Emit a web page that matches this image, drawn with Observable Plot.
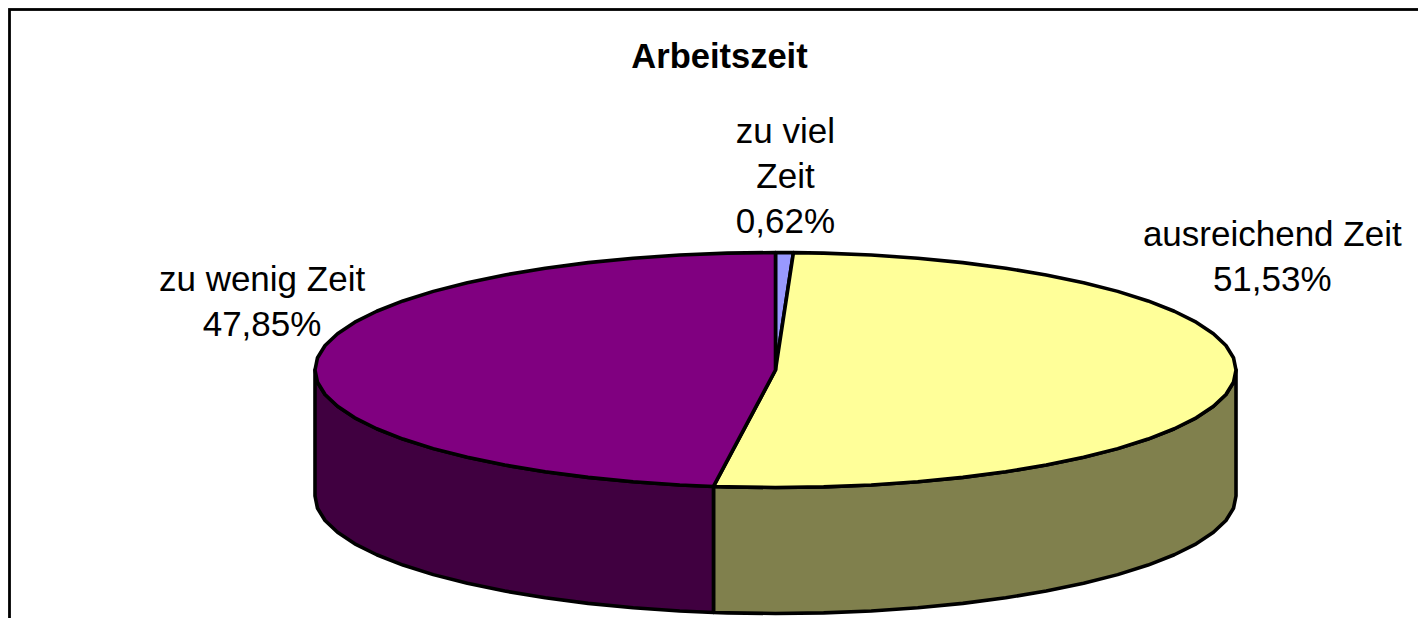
<!DOCTYPE html>
<html lang="de">
<head>
<meta charset="utf-8">
<script src="https://cdn.jsdelivr.net/npm/d3@7"></script>
<script src="https://cdn.jsdelivr.net/npm/@observablehq/plot@0.6"></script>
<style>
html,body{margin:0;padding:0;background:#fff;overflow:hidden}
</style>
</head>
<body>
<div id="chart"></div>
<script>
const categories = ["zu viel Zeit", "ausreichend Zeit", "zu wenig Zeit"];
const values = [0.62, 51.53, 47.85];
const valueLabels = ["0,62%", "51,53%", "47,85%"];
const labelLines = ["zu viel\nZeit", "ausreichend Zeit", "zu wenig Zeit"];
const topColors = ["#9999ff", "#ffff99", "#800080"];
const sideColors = ["#4d4d80", "#80804d", "#400040"];
const chartTitle = "Arbeitszeit";

// layout of the tilted disc, in pixels
const W = 1418, H = 618, CX = 775, CY = 369.5, RX = 460.5, RY = 117.5, DEPTH = 126;

const toRad = (deg) => deg * Math.PI / 180;
const total = d3.sum(values);
const ends = Array.from(d3.cumsum(values), (v) => v / total * 360);
const slices = categories.map((c, i) => ({
  index: i, start: i ? ends[i - 1] : 0, end: ends[i]
}));
const pt = (deg, drop = 0) => ({
  px: Math.sin(toRad(deg)),
  py: -Math.cos(toRad(deg)) + drop
});
const arcAngles = (a, b) => {
  const inner = d3.range(Math.ceil(a / 6) * 6, b, 6).filter((d) => d > a);
  return [a, ...inner, b];
};
const drop = DEPTH / RY;

const marks = [];
// outer frame, running off the picture on the right and at the bottom
marks.push(Plot.frame({stroke: "#000", strokeWidth: 2.8, insetLeft: 9, insetTop: 9, insetRight: -6, insetBottom: -6}));

// visible side walls (front half of the disc)
for (const s of slices) {
  const a = Math.max(s.start, 90), b = Math.min(s.end, 270);
  if (a >= b) continue;
  const angles = arcAngles(a, b);
  const poly = [
    ...angles.map((d) => pt(d)),
    ...angles.slice().reverse().map((d) => pt(d, drop))
  ];
  poly.push(poly[0]);
  marks.push(Plot.line(poly, {x: "px", y: "py", fill: sideColors[s.index], stroke: "#000", strokeWidth: 3.6, strokeLinejoin: "round", curve: "linear"}));
}
// top faces
for (const s of slices) {
  const poly = [{px: 0, py: 0}, ...arcAngles(s.start, s.end).map((d) => pt(d)), {px: 0, py: 0}];
  marks.push(Plot.line(poly, {x: "px", y: "py", fill: topColors[s.index], stroke: "#000", strokeWidth: 3.6, strokeLinejoin: "round", curve: "linear"}));
}
// title
marks.push(Plot.text([chartTitle], {
  text: (d) => d, frameAnchor: "top-left", dx: 719, dy: 56,
  textAnchor: "middle", lineAnchor: "middle",
  fontFamily: "Liberation Sans", fontWeight: "bold", fontSize: 34.5, fill: "#000"
}));
// slice labels, hung from each slice's mid angle on the rim
const labelOffsets = [[1, -20], [38, -89], [-54, -26]];
slices.forEach((s) => {
  const mid = pt((s.start + s.end) / 2);
  marks.push(Plot.text([mid], {
    x: "px", y: "py",
    text: () => labelLines[s.index] + "\n" + valueLabels[s.index],
    dx: labelOffsets[s.index][0], dy: labelOffsets[s.index][1],
    textAnchor: "middle", lineAnchor: "bottom", lineHeight: 1.28,
    fontFamily: "Liberation Sans", fontSize: 35, fill: "#000"
  }));
});

const chart = Plot.plot({
  width: W, height: H,
  margin: 0,
  x: {axis: null, domain: [-CX / RX, (W - CX) / RX], range: [0, W]},
  y: {axis: null, domain: [-CY / RY, (H - CY) / RY], range: [0, H]},
  style: {background: "#fff"},
  marks
});
document.getElementById("chart").appendChild(chart);
</script>
</body>
</html>
